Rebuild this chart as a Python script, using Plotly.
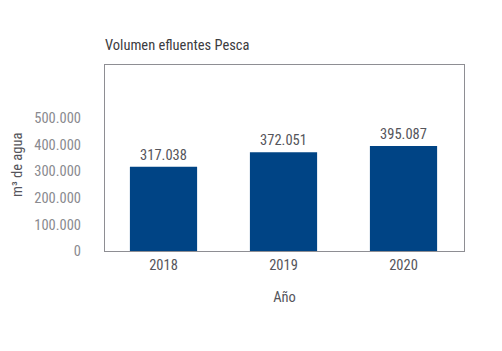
import plotly.graph_objects as go

years = ["2018", "2019", "2020"]
volumes = [317038, 372051, 395087]
tick_vals = [0, 100000, 200000, 300000, 400000, 500000]

FONT = "Roboto Condensed, Roboto, sans-serif"
DARK = "#55555b"
LIGHT = "#8a8a90"

fig = go.Figure(go.Bar(
    x=years, y=volumes,
    marker=dict(color="#004485", line=dict(width=0)),
    texttemplate="%{y:,}", textposition="outside",
    textfont=dict(size=14.5, color=DARK, family=FONT),
    cliponaxis=False,
))

fig.update_layout(
    width=502, height=351,
    margin=dict(l=105, r=38, t=65, b=100),
    paper_bgcolor="white", plot_bgcolor="white",
    separators=",.",
    bargap=0.44,
    showlegend=False,
    font=dict(family=FONT, color=DARK, size=14.5),
    title=dict(text="Volumen efluentes Pesca", x=105/502, xanchor="left",
               y=1-45/351, yanchor="middle",
               font=dict(size=14.5, color="#3c3c41", family=FONT)),
)
fig.add_annotation(text="m³ de agua", xref="paper", yref="paper",
                   x=-88/359, y=(251-165)/186, xanchor="center", yanchor="middle",
                   textangle=-90, showarrow=False,
                   font=dict(size=14.5, color=DARK, family=FONT))
fig.update_xaxes(
    range=[-0.4875, 2.504],
    showline=True, linecolor="#8e8e93", linewidth=1.2, mirror=True,
    ticks="", tickfont=dict(size=14.5, color=DARK),
    title=dict(text="Año", font=dict(size=14.5, color=DARK), standoff=19),
)
fig.update_yaxes(
    range=[0, 700000], tickvals=tick_vals, tickformat=",d",
    showgrid=False, zeroline=False,
    showline=True, linecolor="#8e8e93", linewidth=1.2, mirror=True,
    ticks="", ticklabelstandoff=20,
    tickfont=dict(size=14.5, color=LIGHT),
)

fig.write_html("out.html")
